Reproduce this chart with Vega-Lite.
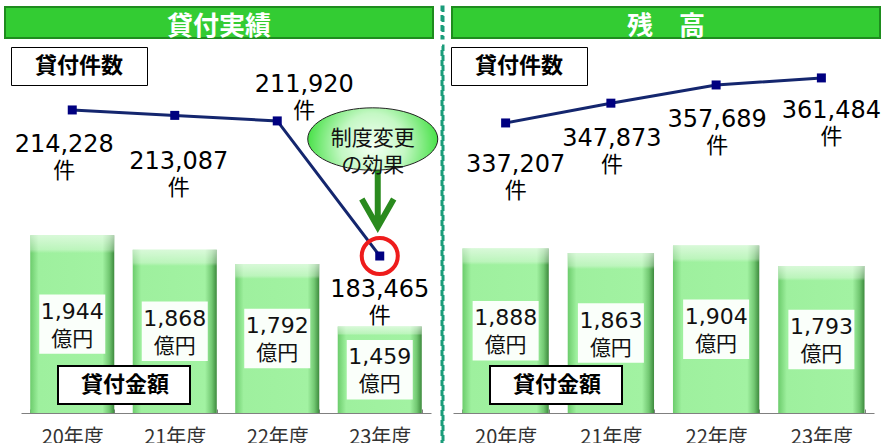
{
  "$schema": "https://vega.github.io/schema/vega-lite/v6.json",
  "padding": {"left": 4, "top": 5, "right": 0, "bottom": 0},
  "background": "white",
  "config": {"view": {"stroke": null}},
  "datasets": {
    "left": [
      {"year": "20年度", "count": 214228, "amount": 1944},
      {"year": "21年度", "count": 213087, "amount": 1868},
      {"year": "22年度", "count": 211920, "amount": 1792},
      {"year": "23年度", "count": 183465, "amount": 1459}
    ],
    "right": [
      {"year": "20年度", "count": 337207, "amount": 1888},
      {"year": "21年度", "count": 347873, "amount": 1863},
      {"year": "22年度", "count": 357689, "amount": 1904},
      {"year": "23年度", "count": 361484, "amount": 1793}
    ],
    "note": [
      {"year": "23年度", "count": 183465, "note": "制度変更\nの効果"}
    ]
  },
  "columns": 3,
  "spacing": {"row": 8, "column": 9},
  "bounds": "flush",
  "resolve": {"scale": {"color": "independent", "shape": "independent"}, "legend": {"color": "independent", "shape": "independent"}},
  "concat": [
    {
      "width": 428, "height": 31,
      "view": {"fill": "#33cc33", "stroke": "#1e8c1e", "strokeWidth": 2},
      "data": {"values": [{"t": "貸付実績"}]},
      "mark": {"type": "text", "font": "Noto Sans CJK JP", "fontWeight": "bold", "fontSize": 26, "color": "white", "baseline": "middle", "dy": 4},
      "encoding": {"text": {"field": "t"}}
    },
    {
      "width": 1, "height": 31,
      "view": {"stroke": "#1a9c7a", "strokeWidth": 3, "strokeDash": [6, 4]},
      "data": {"values": [{}]},
      "mark": {"type": "point", "opacity": 0},
      "encoding": {}
    },
    {
      "width": 428, "height": 31,
      "view": {"fill": "#33cc33", "stroke": "#1e8c1e", "strokeWidth": 2},
      "data": {"values": [{"t": "残　高"}]},
      "mark": {"type": "text", "font": "Noto Sans CJK JP", "fontWeight": "bold", "fontSize": 26, "color": "white", "baseline": "middle", "dy": 4},
      "encoding": {"text": {"field": "t"}}
    },
    {
      "width": 428, "height": 367,
      "data": {"name": "left"},
      "resolve": {"scale": {"y": "independent"}},
      "encoding": {
        "x": {"field": "year", "type": "nominal", "sort": null, "title": null,
          "scale": {"domain": ["20年度", "21年度", "22年度", "23年度"], "range": [16, 426], "paddingInner": 0.18, "paddingOuter": 0.09},
          "axis": {"domainColor": "#808080", "tickColor": "#808080", "tickBand": "extent", "tickSize": -4, "labelPadding": 18, "labelFont": "Noto Sans CJK JP", "labelFontSize": 20, "labelColor": "#333333", "labelAngle": 0}}
      },
      "layer": [
        {
          "encoding": {
            "y": {"field": "amount", "type": "quantitative", "scale": {"domain": [1000, 2950], "nice": false, "zero": false, "clamp": true}, "axis": null}
          },
          "layer": [
            {"mark": {"type": "bar", "fill": {"gradient": "linear", "x1": 0, "y1": 0, "x2": 1, "y2": 0, "stops": [{"offset": 0, "color": "#6ccc6c"}, {"offset": 0.1, "color": "#9ef09e"}, {"offset": 0.86, "color": "#a2f2a2"}, {"offset": 0.94, "color": "#72c872"}, {"offset": 1, "color": "#3d8a3d"}]}}},
            {"mark": {"type": "bar", "fill": {"gradient": "linear", "x1": 0, "y1": 0, "x2": 0, "y2": 1, "stops": [{"offset": 0, "color": "rgba(255,255,255,0.6)"}, {"offset": 0.08, "color": "rgba(255,255,255,0.3)"}, {"offset": 0.1, "color": "rgba(255,255,255,0)"}, {"offset": 1, "color": "rgba(255,255,255,0)"}]}}}
          ]
        },
        {
          "layer": [
            {
              "mark": {"type": "point", "shape": "M-1,-0.9L1,-0.9L1,0.9L-1,0.9Z", "filled": true, "fill": "white", "opacity": 0.95, "size": 4356, "strokeWidth": 0},
              "encoding": {
                "y": {"field": "amount", "type": "quantitative", "scale": {"domain": [1000, 4900], "nice": false, "zero": false}, "axis": null}
              }
            },
            {
              "mark": {"type": "text", "font": "DejaVu Sans", "fontSize": 22, "baseline": "middle", "dy": -12.5},
              "encoding": {
                "y": {"field": "amount", "type": "quantitative", "axis": null},
                "text": {"field": "amount", "type": "quantitative", "format": ","},
                "color": {"datum": "貸付金額", "scale": {"range": ["#111111"]},
                  "legend": {"orient": "none", "legendX": 53, "legendY": 320, "title": " ", "titleOrient": "right", "titleFontSize": 1, "titlePadding": 13, "padding": 8, "fillColor": "white", "strokeColor": "black", "symbolSize": 0, "symbolOpacity": 0, "symbolStrokeWidth": 0, "labelOffset": -7, "labelFontSize": 22, "labelFont": "Noto Sans CJK JP", "labelFontWeight": "bold", "labelColor": "#000000", "encode": {"legend": {"update": {"strokeWidth": {"value": 2}}}}}}
              }
            },
            {
              "mark": {"type": "text", "font": "Noto Sans CJK JP", "fontSize": 21, "baseline": "middle", "dy": 15.5, "text": "億円", "color": "#111111"},
              "encoding": {
                "y": {"field": "amount", "type": "quantitative", "axis": null}
              }
            }
          ]
        },
        {
          "layer": [
            {
              "mark": {"type": "line", "color": "#14266e", "strokeWidth": 3},
              "encoding": {
                "y": {"field": "count", "type": "quantitative", "scale": {"domain": [150400, 227700], "nice": false, "zero": false}, "axis": null}
              }
            },
            {
              "mark": {"type": "point", "filled": true, "color": "#000080", "size": 81, "opacity": 1},
              "encoding": {
                "y": {"field": "count", "type": "quantitative", "axis": null},
                "shape": {"datum": "貸付件数", "scale": {"range": ["square"]},
                  "legend": {"orient": "none", "legendX": 6, "legendY": 1, "title": " ", "titleOrient": "right", "titleFontSize": 1, "titlePadding": 16, "padding": 8, "fillColor": "white", "strokeColor": "black", "symbolSize": 0, "symbolOpacity": 0, "symbolStrokeWidth": 0, "labelOffset": -6, "labelFontSize": 22, "labelFont": "Noto Sans CJK JP", "labelFontWeight": "bold", "labelColor": "#000000", "encode": {"legend": {"update": {"strokeWidth": {"value": 2}}}}}}
              }
            },
            {
              "transform": [{"filter": "datum.year == '20年度'"}],
              "mark": {"type": "text", "font": "DejaVu Sans", "fontSize": 24, "baseline": "top", "dx": -8, "dy": 23.5, "color": "#000000"},
              "encoding": {"y": {"field": "count", "type": "quantitative", "axis": null}, "text": {"field": "count", "type": "quantitative", "format": ","}}
            },
            {
              "transform": [{"filter": "datum.year == '20年度'"}],
              "mark": {"type": "text", "font": "Noto Sans CJK JP", "fontSize": 22, "baseline": "top", "dx": -8, "dy": 51.5, "text": "件", "color": "#000000"},
              "encoding": {"y": {"field": "count", "type": "quantitative", "axis": null}}
            },
            {
              "transform": [{"filter": "datum.year == '21年度'"}],
              "mark": {"type": "text", "font": "DejaVu Sans", "fontSize": 24, "baseline": "top", "dx": 4, "dy": 34.5, "color": "#000000"},
              "encoding": {"y": {"field": "count", "type": "quantitative", "axis": null}, "text": {"field": "count", "type": "quantitative", "format": ","}}
            },
            {
              "transform": [{"filter": "datum.year == '21年度'"}],
              "mark": {"type": "text", "font": "Noto Sans CJK JP", "fontSize": 22, "baseline": "top", "dx": 4, "dy": 62.5, "text": "件", "color": "#000000"},
              "encoding": {"y": {"field": "count", "type": "quantitative", "axis": null}}
            },
            {
              "transform": [{"filter": "datum.year == '22年度'"}],
              "mark": {"type": "text", "font": "DejaVu Sans", "fontSize": 24, "baseline": "top", "dx": 27, "dy": -47.5, "color": "#000000"},
              "encoding": {"y": {"field": "count", "type": "quantitative", "axis": null}, "text": {"field": "count", "type": "quantitative", "format": ","}}
            },
            {
              "transform": [{"filter": "datum.year == '22年度'"}],
              "mark": {"type": "text", "font": "Noto Sans CJK JP", "fontSize": 22, "baseline": "top", "dx": 27, "dy": -19.5, "text": "件", "color": "#000000"},
              "encoding": {"y": {"field": "count", "type": "quantitative", "axis": null}}
            },
            {
              "transform": [{"filter": "datum.year == '23年度'"}],
              "mark": {"type": "text", "font": "DejaVu Sans", "fontSize": 24, "baseline": "top", "dx": 0, "dy": 21.5, "color": "#000000"},
              "encoding": {"y": {"field": "count", "type": "quantitative", "axis": null}, "text": {"field": "count", "type": "quantitative", "format": ","}}
            },
            {
              "transform": [{"filter": "datum.year == '23年度'"}],
              "mark": {"type": "text", "font": "Noto Sans CJK JP", "fontSize": 22, "baseline": "top", "dx": 0, "dy": 49.5, "text": "件", "color": "#000000"},
              "encoding": {"y": {"field": "count", "type": "quantitative", "axis": null}}
            },
            {
              "data": {"name": "note"},
              "mark": {"type": "point", "shape": "circle", "filled": false, "stroke": "#ee1c1c", "strokeWidth": 4, "size": 1300, "opacity": 1},
              "encoding": {"y": {"field": "count", "type": "quantitative", "axis": null}}
            },
            {
              "data": {"name": "note"},
              "mark": {"type": "point", "shape": "M0,-1L0,0.95M-0.56,0.02L0,1L0.56,0.02", "filled": false, "stroke": "#2a8a1e", "strokeWidth": 6, "strokeJoin": "miter", "size": 3249, "opacity": 1, "xOffset": -2, "yOffset": -57.5},
              "encoding": {"y": {"field": "count", "type": "quantitative", "axis": null}}
            },
            {
              "data": {"name": "note"},
              "mark": {"type": "point", "shape": "M-1,0A1,0.48,0,1,1,1,0A1,0.48,0,1,1,-1,0Z", "filled": true, "opacity": 1, "stroke": "#222222", "strokeWidth": 1, "size": 16900, "xOffset": -7, "yOffset": -117,
                "fill": {"gradient": "radial", "x1": 0.5, "y1": 0.55, "r1": 0, "x2": 0.5, "y2": 0.55, "r2": 0.55, "stops": [{"offset": 0, "color": "#f4fff4"}, {"offset": 0.45, "color": "#c4f8c4"}, {"offset": 1, "color": "#33dd33"}]}},
              "encoding": {"y": {"field": "count", "type": "quantitative", "axis": null}}
            },
            {
              "data": {"name": "note"},
              "mark": {"type": "text", "font": "Noto Sans CJK JP", "fontSize": 21, "lineHeight": 27, "lineBreak": "\n", "baseline": "middle", "color": "#111111", "xOffset": -7, "yOffset": -117},
              "encoding": {"y": {"field": "count", "type": "quantitative", "axis": null}, "text": {"field": "note"}}
            }
          ]
        }
      ]
    },
    {
      "width": 1, "height": 399,
      "view": {"stroke": "#1a9c7a", "strokeWidth": 3, "strokeDash": [6, 4]},
      "data": {"values": [{}]},
      "mark": {"type": "point", "opacity": 0},
      "encoding": {}
    },
    {
      "width": 428, "height": 367,
      "data": {"name": "right"},
      "resolve": {"scale": {"y": "independent"}},
      "encoding": {
        "x": {"field": "year", "type": "nominal", "sort": null, "title": null,
          "scale": {"domain": ["20年度", "21年度", "22年度", "23年度"], "range": [1, 422], "paddingInner": 0.18, "paddingOuter": 0.09},
          "axis": {"domainColor": "#808080", "tickColor": "#808080", "tickBand": "extent", "tickSize": -4, "labelPadding": 18, "labelFont": "Noto Sans CJK JP", "labelFontSize": 20, "labelColor": "#333333", "labelAngle": 0}}
      },
      "layer": [
        {
          "encoding": {
            "y": {"field": "amount", "type": "quantitative", "scale": {"domain": [1000, 2980], "nice": false, "zero": false, "clamp": true}, "axis": null}
          },
          "layer": [
            {"mark": {"type": "bar", "fill": {"gradient": "linear", "x1": 0, "y1": 0, "x2": 1, "y2": 0, "stops": [{"offset": 0, "color": "#6ccc6c"}, {"offset": 0.1, "color": "#9ef09e"}, {"offset": 0.86, "color": "#a2f2a2"}, {"offset": 0.94, "color": "#72c872"}, {"offset": 1, "color": "#3d8a3d"}]}}},
            {"mark": {"type": "bar", "fill": {"gradient": "linear", "x1": 0, "y1": 0, "x2": 0, "y2": 1, "stops": [{"offset": 0, "color": "rgba(255,255,255,0.6)"}, {"offset": 0.08, "color": "rgba(255,255,255,0.3)"}, {"offset": 0.1, "color": "rgba(255,255,255,0)"}, {"offset": 1, "color": "rgba(255,255,255,0)"}]}}}
          ]
        },
        {
          "layer": [
            {
              "mark": {"type": "point", "shape": "M-1,-0.9L1,-0.9L1,0.9L-1,0.9Z", "filled": true, "fill": "white", "opacity": 0.95, "size": 4356, "strokeWidth": 0},
              "encoding": {
                "y": {"field": "amount", "type": "quantitative", "scale": {"domain": [1000, 4960], "nice": false, "zero": false}, "axis": null}
              }
            },
            {
              "mark": {"type": "text", "font": "DejaVu Sans", "fontSize": 22, "baseline": "middle", "dy": -12.5},
              "encoding": {
                "y": {"field": "amount", "type": "quantitative", "axis": null},
                "text": {"field": "amount", "type": "quantitative", "format": ","},
                "color": {"datum": "貸付金額", "scale": {"range": ["#111111"]},
                  "legend": {"orient": "none", "legendX": 38, "legendY": 320, "title": " ", "titleOrient": "right", "titleFontSize": 1, "titlePadding": 13, "padding": 8, "fillColor": "white", "strokeColor": "black", "symbolSize": 0, "symbolOpacity": 0, "symbolStrokeWidth": 0, "labelOffset": -7, "labelFontSize": 22, "labelFont": "Noto Sans CJK JP", "labelFontWeight": "bold", "labelColor": "#000000", "encode": {"legend": {"update": {"strokeWidth": {"value": 2}}}}}}
              }
            },
            {
              "mark": {"type": "text", "font": "Noto Sans CJK JP", "fontSize": 21, "baseline": "middle", "dy": 15.5, "text": "億円", "color": "#111111"},
              "encoding": {
                "y": {"field": "amount", "type": "quantitative", "axis": null}
              }
            }
          ]
        },
        {
          "layer": [
            {
              "mark": {"type": "line", "color": "#14266e", "strokeWidth": 3},
              "encoding": {
                "y": {"field": "count", "type": "quantitative", "scale": {"domain": [180800, 378700], "nice": false, "zero": false}, "axis": null}
              }
            },
            {
              "mark": {"type": "point", "filled": true, "color": "#000080", "size": 81, "opacity": 1},
              "encoding": {
                "y": {"field": "count", "type": "quantitative", "axis": null},
                "shape": {"datum": "貸付件数", "scale": {"range": ["square"]},
                  "legend": {"orient": "none", "legendX": -1, "legendY": 1, "title": " ", "titleOrient": "right", "titleFontSize": 1, "titlePadding": 16, "padding": 8, "fillColor": "white", "strokeColor": "black", "symbolSize": 0, "symbolOpacity": 0, "symbolStrokeWidth": 0, "labelOffset": -6, "labelFontSize": 22, "labelFont": "Noto Sans CJK JP", "labelFontWeight": "bold", "labelColor": "#000000", "encode": {"legend": {"update": {"strokeWidth": {"value": 2}}}}}}
              }
            },
            {
              "transform": [{"filter": "datum.year == '20年度'"}],
              "mark": {"type": "text", "font": "DejaVu Sans", "fontSize": 24, "baseline": "top", "dx": 10, "dy": 30.5, "color": "#000000"},
              "encoding": {"y": {"field": "count", "type": "quantitative", "axis": null}, "text": {"field": "count", "type": "quantitative", "format": ","}}
            },
            {
              "transform": [{"filter": "datum.year == '20年度'"}],
              "mark": {"type": "text", "font": "Noto Sans CJK JP", "fontSize": 22, "baseline": "top", "dx": 10, "dy": 58.5, "text": "件", "color": "#000000"},
              "encoding": {"y": {"field": "count", "type": "quantitative", "axis": null}}
            },
            {
              "transform": [{"filter": "datum.year == '21年度' || datum.year == '22年度'"}],
              "mark": {"type": "text", "font": "DejaVu Sans", "fontSize": 24, "baseline": "top", "dx": 1, "dy": 23.5, "color": "#000000"},
              "encoding": {"y": {"field": "count", "type": "quantitative", "axis": null}, "text": {"field": "count", "type": "quantitative", "format": ","}}
            },
            {
              "transform": [{"filter": "datum.year == '21年度' || datum.year == '22年度'"}],
              "mark": {"type": "text", "font": "Noto Sans CJK JP", "fontSize": 22, "baseline": "top", "dx": 1, "dy": 51.5, "text": "件", "color": "#000000"},
              "encoding": {"y": {"field": "count", "type": "quantitative", "axis": null}}
            },
            {
              "transform": [{"filter": "datum.year == '23年度'"}],
              "mark": {"type": "text", "font": "DejaVu Sans", "fontSize": 24, "baseline": "top", "dx": 10, "dy": 21.5, "color": "#000000"},
              "encoding": {"y": {"field": "count", "type": "quantitative", "axis": null}, "text": {"field": "count", "type": "quantitative", "format": ","}}
            },
            {
              "transform": [{"filter": "datum.year == '23年度'"}],
              "mark": {"type": "text", "font": "Noto Sans CJK JP", "fontSize": 22, "baseline": "top", "dx": 10, "dy": 49.5, "text": "件", "color": "#000000"},
              "encoding": {"y": {"field": "count", "type": "quantitative", "axis": null}}
            }
          ]
        }
      ]
    }
  ]
}
